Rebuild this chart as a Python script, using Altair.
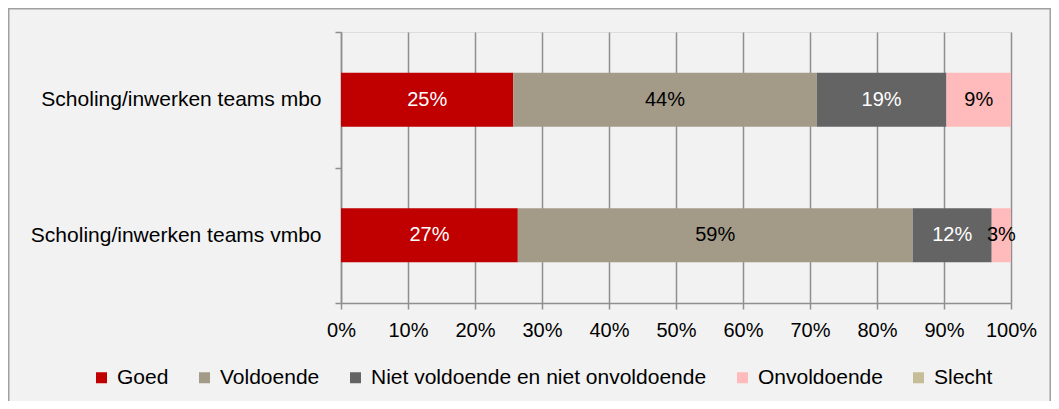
import altair as alt
import pandas as pd

categories = ["Scholing/inwerken teams mbo", "Scholing/inwerken teams vmbo"]
ratings = ["Goed", "Voldoende", "Niet voldoende en niet onvoldoende", "Onvoldoende", "Slecht"]
mbo_values = [25.1, 44.2, 18.9, 9.4, 0.0]
vmbo_values = [26.6, 59.4, 11.9, 2.9, 0.0]
colors = ["#c00000", "#a39b88", "#646464", "#ffbbbb", "#c4bd97"]
x_ticks = [0, 0.1, 0.2, 0.3, 0.4, 0.5, 0.6, 0.7, 0.8, 0.9, 1.0]

rows = []
for cat, vals in zip(categories, [mbo_values, vmbo_values]):
    for i, (r, v) in enumerate(zip(ratings, vals)):
        rows.append({"category": cat, "rating": r, "value": v, "order": i})
df = pd.DataFrame(rows)

FONT = "Liberation Sans"
GRID = "#8f8f8f"

base = alt.Chart(df).transform_stack(
    stack="value",
    groupby=["category"],
    as_=["x0", "x1"],
    offset="normalize",
    sort=[alt.SortField("order", order="ascending")],
).transform_calculate(
    mid="(datum.x0 + datum.x1) / 2",
    label="format(datum.value, '.0f') + '%'",
)

y_enc = alt.Y(
    "category:N",
    sort=categories,
    scale=alt.Scale(paddingInner=0, paddingOuter=0),
    axis=alt.Axis(
        title=None,
        tickBand="extent",
        domainColor=GRID,
        domainWidth=1.5,
        tickColor=GRID,
        tickWidth=1.5,
        tickSize=6,
        labelPadding=14,
        labelFontSize=21,
        labelColor="#000000",
        labelFont=FONT,
        labelLimit=0,
        grid=False,
    ),
)

bars = base.mark_bar(size=54).encode(
    x=alt.X(
        "x0:Q",
        scale=alt.Scale(domain=[0, 1], nice=False),
        axis=alt.Axis(
            title=None,
            values=x_ticks,
            format=".0%",
            grid=True,
            gridColor=GRID,
            gridWidth=1.5,
            domainColor=GRID,
            domainWidth=1.5,
            tickColor=GRID,
            tickWidth=1.5,
            tickSize=6,
            labelPadding=11,
            labelFontSize=20,
            labelColor="#000000",
            labelFont=FONT,
            labelOverlap=False,
            labelFlush=False,
            labelLimit=0,
        ),
    ),
    x2="x1:Q",
    y=y_enc,
    color=alt.Color(
        "rating:N",
        scale=alt.Scale(domain=ratings, range=colors),
        sort=ratings,
        legend=alt.Legend(
            title=None,
            orient="none",
            legendX=-250,
            legendY=335,
            direction="horizontal",
            columns=5,
            symbolType="square",
            symbolSize=121,
            symbolStrokeWidth=0,
            labelFontSize=21,
            labelFont=FONT,
            labelColor="#000000",
            labelOffset=5,
            labelLimit=0,
            columnPadding=25,
        ),
    ),
)

texts = base.transform_filter("datum.value > 0").mark_text(
    fontSize=20, font=FONT, baseline="middle", align="center"
).encode(
    x=alt.X("mid:Q"),
    y=alt.Y("category:N", sort=categories),
    text="label:N",
    color=alt.condition(
        alt.FieldOneOfPredicate(field="rating", oneOf=["Goed", "Niet voldoende en niet onvoldoende"]),
        alt.value("#ffffff"),
        alt.value("#000000"),
    ),
)

frame = alt.Chart(pd.DataFrame({"a": [0]})).mark_rect(
    fill=None, stroke="#a0a0a0", strokeWidth=1.5
).encode(
    x=alt.value(-332.25),
    x2=alt.value(670 + 39.25),
    y=alt.value(-23.25),
    y2=alt.value(400),
)

chart = alt.layer(frame, bars, texts).properties(
    width=670,
    height=271,
    padding={"left": 333, "top": 24, "right": 40, "bottom": 98},
    autosize=alt.AutoSizeParams(type="none"),
    background="#f2f2f2",
).configure_view(
    fill="#ffffff", stroke=None
).configure(font=FONT)

chart.save("out.html", embed_options={"renderer": "svg", "actions": False})
